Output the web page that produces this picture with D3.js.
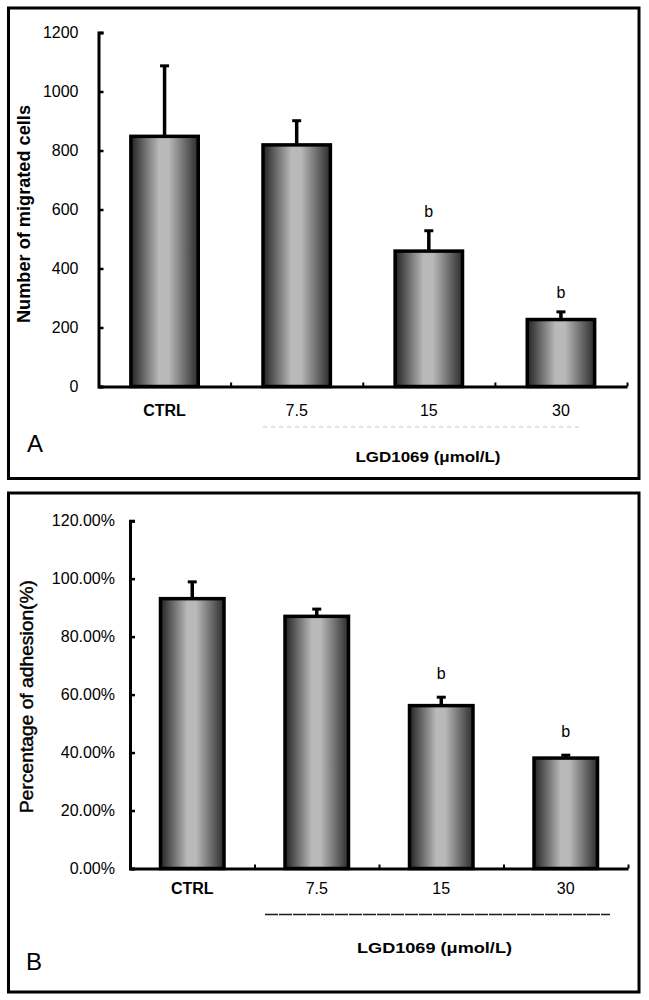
<!DOCTYPE html>
<html>
<head>
<meta charset="utf-8">
<script src="https://cdn.jsdelivr.net/npm/d3@7"></script>
<style>
  html, body { margin: 0; padding: 0; background: #fff; }
  svg { display: block; }
  text { font-family: "Liberation Sans", Arial, sans-serif; fill: #000; }
</style>
</head>
<body>
<script>
// ---------- data ----------
const categories = ["CTRL", "7.5", "15", "30"];
const migratedMean = [848, 819, 459, 227];
const migratedErr = [239, 82, 69, 26];
const adhesionMean = [93.1, 87.0, 56.2, 38.1];
const adhesionErr = [5.8, 2.5, 2.9, 1.0];
const significance = ["", "", "b", "b"];
const migratedTicks = [0, 200, 400, 600, 800, 1000, 1200];
const adhesionTicks = [0, 20, 40, 60, 80, 100, 120];
const migratedTitle = "Number of migrated cells";
const adhesionTitle = "Percentage of adhesion(%)";
const treatmentLabel = "LGD1069 (\u03bcmol/L)";
const panelLetters = ["A", "B"];

const W = 649, H = 1000;
const svg = d3.select("body").append("svg").attr("width", W).attr("height", H);

// bar gradient
const defs = svg.append("defs");
const grad = defs.append("linearGradient").attr("id", "barGrad")
  .attr("x1", "0").attr("x2", "1").attr("y1", "0").attr("y2", "0");
[[0, "#232323"], [0.42, "#b9b9b9"], [0.56, "#b9b9b9"], [1, "#2c2c2c"]].forEach(([o, c]) =>
  grad.append("stop").attr("offset", o).attr("stop-color", c));

const FONT = "Liberation Sans, Arial, sans-serif";

function drawPanel(cfg) {
  const g = svg.append("g");
  // frame
  g.append("rect").attr("x", cfg.frame[0]).attr("y", cfg.frame[1])
    .attr("width", cfg.frame[2]).attr("height", cfg.frame[3])
    .attr("fill", "none").attr("stroke", "#000").attr("stroke-width", 3);

  const x = d3.scaleBand().domain(categories).range(cfg.xRange).paddingInner(0).paddingOuter(0);
  const y = d3.scaleLinear().domain(cfg.yDomain).range(cfg.yRange);

  const bw = x.bandwidth() * 0.51;
  const data = categories.map((c, i) => ({ c, v: cfg.means[i], e: cfg.errs[i], s: significance[i] }));

  // error bars (behind bars)
  const eb = g.append("g").selectAll("g").data(data).join("g");
  eb.append("line")
    .attr("x1", d => x(d.c) + x.bandwidth() / 2).attr("x2", d => x(d.c) + x.bandwidth() / 2)
    .attr("y1", d => y(d.v)).attr("y2", d => y(d.v + d.e))
    .attr("stroke", "#000").attr("stroke-width", 3.5);
  eb.append("line")
    .attr("x1", d => x(d.c) + x.bandwidth() / 2 - 4.5).attr("x2", d => x(d.c) + x.bandwidth() / 2 + 4.5)
    .attr("y1", d => y(d.v + d.e)).attr("y2", d => y(d.v + d.e))
    .attr("stroke", "#000").attr("stroke-width", 3);

  g.append("g").selectAll("rect").data(data).join("rect")
    .attr("x", d => x(d.c) + (x.bandwidth() - bw) / 2)
    .attr("width", bw)
    .attr("y", d => y(d.v))
    .attr("height", d => y(cfg.yDomain[0]) - y(d.v))
    .attr("fill", "url(#barGrad)")
    .attr("stroke", "#000").attr("stroke-width", 3.5);

  // significance letters
  g.append("g").selectAll("text").data(data.filter(d => d.s)).join("text")
    .attr("x", d => x(d.c) + x.bandwidth() / 2)
    .attr("y", d => y(d.v + d.e) - cfg.sigOffset)
    .attr("text-anchor", "middle").attr("font-size", 16)
    .text(d => d.s);

  // y axis
  const yAxis = g.append("g").attr("transform", `translate(${cfg.xRange[0]},0)`)
    .call(d3.axisLeft(y).tickValues(cfg.ticks).tickSize(-5).tickPadding(cfg.tickPad).tickFormat(cfg.fmt));
  yAxis.select(".domain").attr("stroke-width", 3);
  yAxis.selectAll(".tick line").attr("stroke-width", 2.5);
  yAxis.selectAll(".tick text").attr("font-size", 16).attr("font-family", FONT).attr("fill", "#000");

  // x axis (labels + domain)
  const x0 = y(cfg.yDomain[0]);
  const xAxis = g.append("g").attr("transform", `translate(0,${x0})`)
    .call(d3.axisBottom(x).tickSize(0).tickPadding(cfg.xPad));
  xAxis.select(".domain").attr("stroke-width", 3);
  xAxis.selectAll(".tick text").attr("font-size", 16).attr("font-family", FONT)
    .attr("fill", "#000").attr("font-weight", d => d === "CTRL" ? "bold" : "normal");

  // category boundary ticks
  const bnd = d3.scaleLinear().domain([0, categories.length]).range(cfg.xRange);
  const bAxis = g.append("g").attr("transform", `translate(0,${x0})`)
    .call(d3.axisBottom(bnd).tickValues(d3.range(1, categories.length + 1)).tickSize(-4).tickFormat(""));
  bAxis.select(".domain").remove();
  bAxis.selectAll(".tick line").attr("stroke-width", 2);

  // treatment line
  g.append("line").attr("x1", cfg.lineX[0]).attr("x2", cfg.lineX[1])
    .attr("y1", cfg.lineY).attr("y2", cfg.lineY)
    .attr("stroke", cfg.lineColor).attr("stroke-width", cfg.lineWidth)
    .attr("stroke-dasharray", cfg.lineDash);

  g.append("text").attr("x", cfg.lgdPos[0]).attr("y", cfg.lgdPos[1])
    .attr("text-anchor", "middle").attr("font-size", 15).attr("font-weight", "bold")
    .attr("textLength", cfg.lgdLen).attr("lengthAdjust", "spacingAndGlyphs")
    .text(treatmentLabel);

  // y title
  g.append("text")
    .attr("transform", `translate(${cfg.titlePos[0]},${cfg.titlePos[1]}) rotate(-90)`)
    .attr("text-anchor", "middle").attr("font-size", 18).attr("font-weight", cfg.titleWeight)
    .attr("stroke", "#000").attr("stroke-width", cfg.titleStroke)
    .attr("textLength", cfg.titleLen).attr("lengthAdjust", "spacingAndGlyphs")
    .text(cfg.title);

  // panel letter
  g.append("text").attr("x", cfg.letterPos[0]).attr("y", cfg.letterPos[1])
    .attr("font-size", 24).text(cfg.letter);
}

drawPanel({
  frame: [8.5, 8, 630.5, 470.5],
  xRange: [98.5, 627],
  yDomain: [0, 1200], yRange: [386.5, 32.5],
  means: migratedMean, errs: migratedErr,
  ticks: migratedTicks, fmt: d3.format("d"), tickPad: 20,
  xPad: 18.5, sigOffset: 14,
  lineX: [263, 581], lineY: 427, lineColor: "#c8c8c8", lineWidth: 1.2, lineDash: "4,4",
  lgdPos: [428, 461.5], lgdLen: 145,
  title: migratedTitle, titlePos: [30, 214], titleWeight: "bold", titleStroke: 0, titleLen: 218,
  letter: panelLetters[0], letterPos: [27, 452]
});

drawPanel({
  frame: [8.5, 493, 630.5, 499],
  xRange: [130, 628],
  yDomain: [0, 120], yRange: [868.5, 520.7],
  means: adhesionMean, errs: adhesionErr,
  ticks: adhesionTicks, fmt: d => d3.format(".2f")(d) + "%", tickPad: 15,
  xPad: 14, sigOffset: 18,
  lineX: [265, 610], lineY: 914.5, lineColor: "#1a1a1a", lineWidth: 1.5, lineDash: "13,1",
  lgdPos: [434.5, 952.5], lgdLen: 155,
  title: adhesionTitle, titlePos: [33, 696.5], titleWeight: "normal", titleStroke: 0.4, titleLen: 233,
  letter: panelLetters[1], letterPos: [26, 970]
});
</script>
</body>
</html>
